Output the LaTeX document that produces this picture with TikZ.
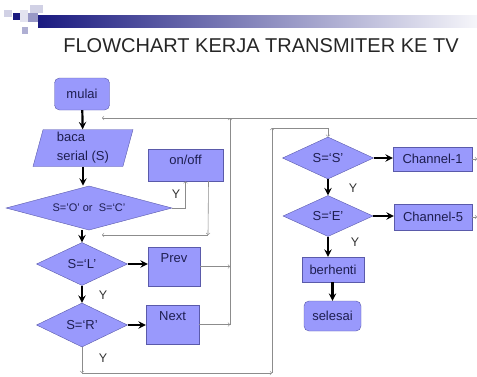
\documentclass[tikz,border=0pt]{standalone}
\usepackage{fontspec}
\setmainfont{Liberation Sans}
\usetikzlibrary{shapes.geometric}

\definecolor{boxfill}{RGB}{153,153,252}
\definecolor{boxline}{RGB}{90,90,170}
\definecolor{boxtext}{RGB}{30,30,80}
\definecolor{linkgray}{RGB}{140,140,140}
\definecolor{barblue}{RGB}{26,26,128}

\tikzset{
  blok/.style={rectangle, draw=boxline, fill=boxfill, text=boxtext,
    font=\fontsize{13}{15}\selectfont, inner sep=0pt},
  terminal/.style={blok, rounded corners=5pt},
  keputusan/.style={diamond, aspect=2, draw=boxline, fill=boxfill, text=boxtext,
    font=\fontsize{13}{15}\selectfont, inner sep=0pt},
  masukan/.style={trapezium, trapezium left angle=72, trapezium right angle=108,
    trapezium stretches body, draw=boxline, fill=boxfill, text=boxtext,
    font=\fontsize{13}{19}\selectfont, inner sep=0pt},
  alir/.style={-stealth, line width=2.2pt, black},
  balik/.style={-to, linkgray, line width=0.6pt},
  ya/.style={font=\fontsize{12.5}{14}\selectfont, text=black!80}
}

\begin{document}
\begin{tikzpicture}[x=1pt, y=-1pt]
  \useasboundingbox (0,0) rectangle (477,376);

  % header
  \fill[barblue!20] (4,10) rectangle (12,17);
  \fill[barblue] (13,13) rectangle (20,20);
  \fill[barblue!12] (20,10) rectangle (28,22);
  \fill[barblue!20] (30,5) rectangle (43,13);
  \fill[barblue!45] (28,13) rectangle (38,22);
  \fill[barblue!35] (22,27) rectangle (28,34);
  \shade[left color=barblue, right color=barblue!4] (38,15) rectangle (477,27);
  \node[font=\fontsize{20}{24}\selectfont, text=black!85] (judul) at (261,46)
    {FLOWCHART KERJA TRANSMITER KE TV};

  % kiri
  \node[terminal, minimum width=55pt, minimum height=32pt] (mulai) at (82,94) {mulai};
  \node[masukan, minimum width=100pt, minimum height=37pt, align=left] (baca) at (83,148)
    {baca\\serial (S)};
  \node[keputusan, minimum width=166pt, minimum height=42pt,
    font=\fontsize{11}{12}\selectfont] (cek) at (89,208) {S=’O’ or\ \ S=‘C’};
  \node[blok, minimum width=75pt, minimum height=32pt, text height=9pt, text depth=10pt]
    (onoff) at (185.5,165) {on/off};
  \node[keputusan, minimum width=91pt, minimum height=43pt] (kiri) at (82,264) {S=‘L’};
  \node[keputusan, minimum width=91pt, minimum height=44pt] (kanan) at (82,325) {S=‘R’};
  \node[blok, minimum width=52pt, minimum height=39pt, text height=9pt, text depth=17pt]
    (prev) at (174,266.5) {Prev};
  \node[blok, minimum width=53pt, minimum height=39pt, text height=9pt, text depth=17pt]
    (next) at (172.5,324.5) {Next};

  % kanan
  \node[keputusan, minimum width=91pt, minimum height=42pt] (stop) at (328,158) {S=‘S’};
  \node[keputusan, minimum width=90pt, minimum height=41pt] (ganti) at (328,216) {S=‘E’};
  \node[blok, minimum width=79pt, minimum height=24pt] (ch1) at (432.5,159) {Channel-1};
  \node[blok, minimum width=78pt, minimum height=26pt] (ch5) at (433,217) {Channel-5};
  \node[blok, minimum width=62pt, minimum height=25pt] (henti) at (333,269.5) {berhenti};
  \node[terminal, minimum width=57pt, minimum height=30pt] (selesai) at (332.5,316) {selesai};

  \path[alir]
    (mulai) edge (baca)
    (baca.south) edge (baca.south |- cek.north)
    (cek.south -| kiri.north) edge (kiri)
    (kiri) edge (kanan)
    (kiri.east) edge (kiri.east -| prev.west)
    (kanan.east) edge (kanan.east -| next.west)
    (stop.east) edge (stop.east -| ch1.west)
    (stop) edge (ganti)
    (ganti.east) edge (ganti.east -| ch5.west)
    (ganti.south) edge (ganti.south |- henti.north)
    (henti.south -| selesai.north) edge (selesai);

  % garis balik
  \coordinate (a1) at (208,235);
  \coordinate (a2) at (102,235);
  \coordinate (atas) at (230,118);
  \coordinate (tepi) at (477,118);
  \coordinate (kiriatas) at (102,118);
  \coordinate (bawah) at (230,325);
  \coordinate (b1) at (82,373);
  \coordinate (b2) at (272,373);
  \coordinate (b3) at (272,128);
  \coordinate (b4) at (328,128);

  \draw[balik] (cek.east) -| (onoff.south);
  \draw[balik] ([xshift=23pt]onoff.south) -- (a1);
  \draw[balik] (a1) -- (a2);
  \draw[balik] (tepi) -- (kiriatas);
  \draw[balik] (bawah) -- (atas);
  \draw[balik] (prev.east) -- (prev.east -| atas);
  \draw[balik] (next.east) -- (next.east -| atas);
  \draw[balik] (ch1.east) -- (ch1.east -| tepi);
  \draw[balik] (ch5.east) -- (ch5.east -| tepi);
  \draw[balik] (kanan.south) -- (b1);
  \draw[balik] (b1) -- (b2);
  \draw[balik] (b2) -- (b3);
  \draw[balik] (b3) -- (b4) -- (stop.north);

  \node[ya] (y1) at (176,194) {Y};
  \node[ya] (y2) at (103,295) {Y};
  \node[ya] (y3) at (103,358) {Y};
  \node[ya] (y4) at (353,188) {Y};
  \node[ya] (y5) at (355,242) {Y};
\end{tikzpicture}
\end{document}
